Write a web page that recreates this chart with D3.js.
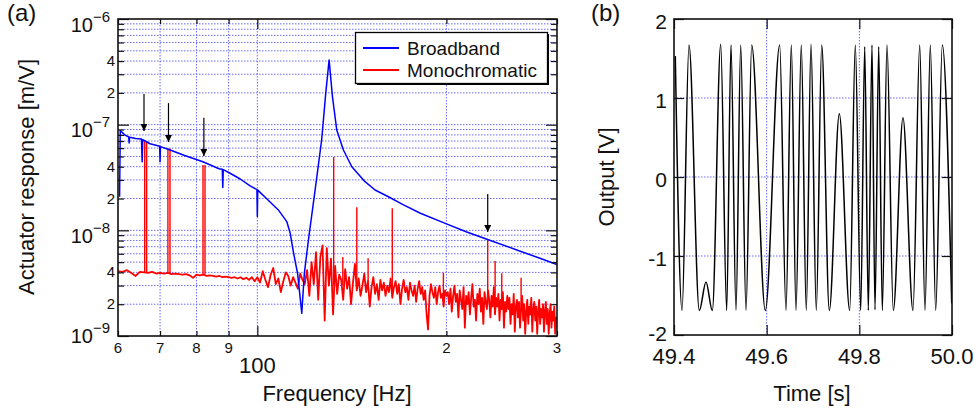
<!DOCTYPE html>
<html>
<head>
<meta charset="utf-8">
<script src="https://cdn.jsdelivr.net/npm/d3@7"></script>
<style>
  body { margin: 0; background: #fff; }
  text { font-family: "Liberation Sans", Arial, Helvetica, sans-serif; fill: #111; }
</style>
</head>
<body>
<svg id="fig" width="976" height="412"></svg>
<script>
// ---------- panel (a): actuator response ----------
// broadband response, m/V
const blueFreq = [60.35, 60.5, 61.5, 62.4, 62.5, 62.6, 64.0, 65.4, 65.55, 65.7, 67.5, 69.9, 70.0, 70.1,
  72.1, 76.6, 81.9, 86.9, 87.95, 88.1, 88.25, 90.5, 93.9, 97.4, 99.85, 100.0, 100.15, 104.0, 108.0,
  111.4, 112.8, 114.1, 115.9, 117.7, 118.8, 120.6, 123.6, 126.6, 128.5, 130.1, 131.7, 133.8, 137.1,
  141.4, 148.4, 154.0, 161.7, 170.9, 181.8, 198.7, 215.0, 232.0, 258.9, 281.8, 300];
const blueResp = [2.08e-8, 8.8e-8, 8.0e-8, 7.65e-8, 6.7e-8, 7.6e-8, 7.4e-8, 7.3e-8, 4.46e-8, 7.2e-8,
  6.6e-8, 6.25e-8, 4.46e-8, 6.2e-8, 5.85e-8, 5.11e-8, 4.46e-8, 3.83e-8, 3.78e-8, 2.55e-8, 3.75e-8,
  3.47e-8, 3.06e-8, 2.63e-8, 2.43e-8, 1.35e-8, 2.40e-8, 1.94e-8, 1.56e-8, 1.21e-8, 9.4e-9, 6.3e-9,
  3.9e-9, 1.64e-9, 3.9e-9, 8.1e-9, 2.41e-8, 7.2e-8, 1.98e-7, 4.1e-7, 1.84e-7, 8.9e-8, 5.76e-8,
  4.0e-8, 2.89e-8, 2.41e-8, 2.08e-8, 1.74e-8, 1.45e-8, 1.17e-8, 9.7e-9, 8.23e-9, 6.52e-9, 5.44e-9, 4.75e-9];

// monochromatic noise floor, one value per Hz from 60 to 300 Hz, in units of 1e-9 m/V
const redStartHz = 60;
const redNoise = [
  4.10, 4.05, 4.20, 3.95, 3.70, 4.05, 4.00, 3.95, 4.05, 3.90,
  3.95, 3.90, 3.95, 3.85, 3.90, 3.85, 3.80, 3.85, 3.75, 3.55,
  3.80, 3.75, 3.80, 3.70, 3.75, 3.70, 3.65, 3.70, 3.60, 3.65,
  3.60, 3.55, 3.60, 3.50, 3.60, 3.45, 3.55, 3.40, 3.60, 3.30,
  3.6, 3.2, 4.1, 3.4, 2.9, 3.8, 4.4, 3.1, 3.5, 2.6,
  3.3, 4.0, 3.7, 3.0, 3.6, 3.2, 2.8, 3.9, 3.4, 3.1,
  4.2, 2.4, 5.0, 3.1, 6.2, 2.2, 5.6, 7.2, 1.4, 6.8,
  3.0, 5.4, 1.6, 4.6, 2.5, 3.8, 3.4, 2.2, 4.3, 2.8,
  3.6, 2.0, 3.2, 4.8, 2.7, 3.5, 2.4, 3.0, 3.9, 2.6,
  3.3, 1.9, 2.9, 3.6, 2.5, 3.1, 2.2, 3.4, 2.7, 3.2,
  2.4, 3.0, 2.6, 3.5, 2.3, 2.9, 3.3, 2.5, 3.1, 2.0,
  2.8, 3.4, 2.6, 2.9, 2.2, 3.2, 2.7, 2.4, 3.0, 2.1,
  2.8, 3.3, 2.5, 2.9, 2.2, 2.7, 1.6, 1.15, 2.4, 3.1,
  2.6, 2.3, 2.9, 2.0, 2.6, 3.0, 2.3, 2.5, 1.9, 2.7,
  2.4, 2.6, 2.0, 2.8, 1.7, 2.4, 3.0, 2.1, 2.5, 1.5,
  2.7, 2.2, 1.8, 2.9, 1.2, 2.4, 2.0, 2.6, 1.6, 2.3,
  3.1, 1.9, 2.2, 1.4, 2.5, 2.0, 2.8, 1.7, 2.3, 1.3,
  2.6, 2.1, 1.8, 2.7, 2.2, 1.5, 2.4, 1.9, 2.9, 1.6,
  2.3, 1.9, 2.5, 1.4, 2.2, 1.8, 2.6, 1.2, 2.1, 1.7,
  2.4, 1.8, 2.3, 1.3, 2.0, 1.6, 2.5, 1.1, 1.9, 2.2,
  1.5, 2.1, 1.2, 1.8, 2.4, 1.4, 2.0, 1.05, 1.7, 2.2,
  1.3, 1.9, 1.6, 2.3, 1.1, 1.8, 2.1, 1.4, 1.9, 1.05,
  1.7, 2.2, 1.3, 1.8, 1.5, 2.0, 1.1, 1.7, 2.1, 1.3,
  1.8, 1.05, 1.6, 2.0, 1.2, 1.7, 1.4, 1.9, 1.05, 1.5,
  1.3];

// monochromatic tones (spikes), m/V
const toneFreq = [66.17, 66.65, 72.05, 72.6, 81.94, 82.54, 132.3, 136.8, 144.0, 150.1, 164.0, 197.8, 232.7, 239.1, 245.0, 263.0];
const toneTop  = [7.0e-8, 7.0e-8, 5.95e-8, 5.95e-8, 4.15e-8, 4.15e-8, 4.95e-8, 5.6e-9, 1.65e-8, 5.45e-9, 1.62e-8, 3.98e-9, 8.1e-9, 5.13e-9, 3.92e-9, 3.56e-9];
const toneBase = [4.0e-9, 4.0e-9, 3.95e-9, 3.95e-9, 3.8e-9, 3.8e-9, 3.0e-9, 3.0e-9, 3.0e-9, 2.8e-9, 2.7e-9, 2.3e-9, 2.0e-9, 2.0e-9, 1.9e-9, 1.8e-9];

// arrows marking the tones
const arrowFreq = [66.0, 72.2, 82.2, 232.7];
const arrowTail = [1.95e-7, 1.6e-7, 1.16e-7, 2.21e-8];
const arrowTip  = [8.7e-8, 6.86e-8, 5.05e-8, 9.64e-9];

const xTicksA = [60, 70, 80, 90, 100, 200, 300];
const xTickLabelsA = ["6", "7", "8", "9", "100", "2", "3"];
const xGridA = [70, 80, 90, 100, 200];
const yDecadesA = [-9, -8, -7, -6];
const ySmallLabelsA = [2e-9, 4e-9, 2e-8, 4e-8, 2e-7, 4e-7];

// ---------- panel (b): output signal, extrema ----------
const waveT = [49.4028, 49.4173, 49.4324, 49.4546, 49.4691, 49.4827, 49.5008, 49.5137, 49.5230, 49.5338,
  49.5440, 49.5554, 49.5677, 49.5971, 49.6281, 49.6417, 49.6532, 49.6633, 49.6747, 49.6855,
  49.6957, 49.7071, 49.7188, 49.7352, 49.7568, 49.7792, 49.7913, 49.8030, 49.8116, 49.8194,
  49.8273, 49.8338, 49.8418, 49.8496, 49.8597, 49.8733, 49.8942, 49.9158, 49.9303, 49.9417,
  49.9532, 49.9648, 49.9791, 49.9994];
const waveV = [1.53, -1.69, 1.67, -1.69, -1.33, -1.69, 1.68, -1.69, 1.67, -1.69,
  1.67, -1.69, 1.67, -1.69, 1.67, -1.69, 1.67, -1.69, 1.67, -1.69,
  1.68, -1.69, 1.67, -1.69, 0.80, -1.69, 1.67, -1.69, 1.65, -1.69,
  1.67, -1.68, 1.65, -1.69, 1.67, -1.69, 0.75, -1.69, 1.67, -1.69,
  1.67, -1.69, 1.67, -1.60];
const xTicksB = [49.4, 49.6, 49.8, 50.0];
const yTicksB = [-2, -1, 0, 1, 2];

// ---------- layout ----------
const A = { left: 118, right: 557, top: 19, bottom: 336 };
const B = { left: 674, right: 952, top: 19, bottom: 335 };
const gridColor = "#6b6bff";
const ink = "#111";

const svg = d3.select("#fig");
const defs = svg.append("defs");
defs.append("clipPath").attr("id", "clipA").append("rect")
  .attr("x", A.left).attr("y", A.top).attr("width", A.right - A.left).attr("height", A.bottom - A.top);
defs.append("clipPath").attr("id", "clipB").append("rect")
  .attr("x", B.left).attr("y", B.top).attr("width", B.right - B.left).attr("height", B.bottom - B.top);
defs.append("marker").attr("id", "head").attr("viewBox", "0 0 10 10")
  .attr("refX", 10).attr("refY", 5).attr("markerWidth", 7).attr("markerHeight", 7)
  .attr("markerUnits", "userSpaceOnUse").attr("orient", "auto")
  .append("path").attr("d", "M0,0L10,5L0,10z").attr("fill", "#000");

const xA = d3.scaleLog().domain([60, 300]).range([A.left, A.right]);
const yA = d3.scaleLog().domain([1e-9, 1e-6]).range([A.bottom, A.top]);
const xB = d3.scaleLinear().domain([49.4, 50.0]).range([B.left, B.right]);
const yB = d3.scaleLinear().domain([-2, 2]).range([B.bottom, B.top]);

// all 1..9 x decade values
const yAllA = [];
yDecadesA.slice(0, 3).forEach(k => d3.range(1, 10).forEach(m => yAllA.push(m * Math.pow(10, k))));
yAllA.push(1e-6);
const yMajorA = yDecadesA.map(k => Math.pow(10, k));
const yMinorA = yAllA.filter(v => !yMajorA.some(m => Math.abs(m - v) / m < 1e-6));

function tickSet(axisFn, scale, vals, size, tx, ty) {
  svg.append("g").attr("transform", `translate(${tx},${ty})`)
    .call(axisFn(scale).tickValues(vals).tickSize(-size).tickFormat(() => ""))
    .call(g => {
      g.select(".domain").remove();
      g.selectAll("text").remove();
      g.selectAll("line").attr("stroke", ink).attr("stroke-width", 1.2);
    });
}

// ---- panel (a) grid ----
const gridA = svg.append("g").attr("stroke", gridColor).attr("stroke-width", 1).attr("stroke-dasharray", "1.5,1.5");
gridA.selectAll("line.h").data(yAllA.filter(v => v > 1.01e-9 && v < 0.99e-6)).join("line")
  .attr("x1", A.left).attr("x2", A.right).attr("y1", d => yA(d)).attr("y2", d => yA(d));
gridA.selectAll("line.v").data(xGridA).join("line")
  .attr("y1", A.top).attr("y2", A.bottom).attr("x1", d => xA(d)).attr("x2", d => xA(d));

// ---- panel (a) data ----
const plotA = svg.append("g").attr("clip-path", "url(#clipA)");
const lineA = d3.line().x(d => xA(d[0])).y(d => yA(d[1]));
const redData = redNoise.map((v, i) => [redStartHz + i, v * 1e-9]);
plotA.append("path").datum(redData).attr("d", lineA)
  .attr("fill", "none").attr("stroke", "#ff0000").attr("stroke-width", 1.8).attr("stroke-linejoin", "round");
plotA.selectAll("line.tone").data(toneFreq).join("line")
  .attr("x1", d => xA(d)).attr("x2", d => xA(d))
  .attr("y1", (d, i) => yA(toneBase[i])).attr("y2", (d, i) => yA(toneTop[i]))
  .attr("stroke", "#ff0000").attr("stroke-width", 1.4);
const blueData = blueFreq.map((f, i) => [f, blueResp[i]]);
plotA.append("path").datum(blueData).attr("d", lineA)
  .attr("fill", "none").attr("stroke", "#0000ff").attr("stroke-width", 1.5).attr("stroke-linejoin", "round");

// ---- panel (a) ticks ----
tickSet(d3.axisLeft, yA, yMinorA, 6, A.left, 0);
tickSet(d3.axisLeft, yA, yMajorA, 11, A.left, 0);
tickSet(d3.axisRight, yA, yMinorA, 6, A.right, 0);
tickSet(d3.axisRight, yA, yMajorA, 11, A.right, 0);
tickSet(d3.axisBottom, xA, xTicksA.filter(v => v !== 100), 5, 0, A.bottom);
tickSet(d3.axisBottom, xA, [100], 10, 0, A.bottom);
tickSet(d3.axisTop, xA, xTicksA.filter(v => v !== 100), 5, 0, A.top);
tickSet(d3.axisTop, xA, [100], 10, 0, A.top);
svg.append("rect").attr("x", A.left).attr("y", A.top).attr("width", A.right - A.left).attr("height", A.bottom - A.top)
  .attr("fill", "none").attr("stroke", ink).attr("stroke-width", 1.6);

// ---- panel (a) tick labels ----
const yLab = svg.append("g");
yMajorA.forEach((v, i) => {
  const t = yLab.append("text").attr("x", 110).attr("y", Math.min(yA(v) + 12.5, 343))
    .attr("text-anchor", "end").attr("font-size", 20);
  t.append("tspan").text("10");
  t.append("tspan").attr("dy", -10).attr("font-size", 15).text("\u2212" + (-yDecadesA[i]));
});
yLab.selectAll("text.s").data(ySmallLabelsA).join("text")
  .attr("x", 115).attr("y", d => yA(d) + 5).attr("text-anchor", "end").attr("font-size", 15)
  .text(d => String(Math.round(d / Math.pow(10, Math.floor(Math.log10(d) + 1e-9)))));
svg.selectAll("text.xa").data(xTicksA).join("text")
  .attr("x", d => xA(d)).attr("y", d => d === 100 ? 373 : 353)
  .attr("text-anchor", "middle").attr("font-size", d => d === 100 ? 22 : 15)
  .text((d, i) => xTickLabelsA[i]);

// ---- panel (a) axis titles ----
svg.append("text").attr("transform", "translate(34,177) rotate(-90)").attr("text-anchor", "middle")
  .attr("font-size", 22).text("Actuator response [m/V]");
svg.append("text").attr("x", (A.left + A.right) / 2 - 0.5).attr("y", 401).attr("text-anchor", "middle")
  .attr("font-size", 22).text("Frequency [Hz]");
svg.append("text").attr("x", 7).attr("y", 21).attr("font-size", 24).text("(a)");

// ---- arrows ----
svg.selectAll("line.arrow").data(arrowFreq).join("line")
  .attr("x1", d => xA(d)).attr("x2", d => xA(d))
  .attr("y1", (d, i) => yA(arrowTail[i])).attr("y2", (d, i) => yA(arrowTip[i]))
  .attr("stroke", "#000").attr("stroke-width", 1.2).attr("marker-end", "url(#head)");

// ---- legend ----
const leg = svg.append("g");
leg.append("rect").attr("x", 357).attr("y", 34).attr("width", 192).attr("height", 51).attr("fill", "#000");
leg.append("rect").attr("x", 355.5).attr("y", 32.5).attr("width", 192).attr("height", 51)
  .attr("fill", "#fff").attr("stroke", "#000").attr("stroke-width", 1.3);
const legItems = [["Broadband", "#0000ff", 48], ["Monochromatic", "#ff0000", 70]];
legItems.forEach(([name, col, y]) => {
  leg.append("line").attr("x1", 363).attr("x2", 399).attr("y1", y).attr("y2", y)
    .attr("stroke", col).attr("stroke-width", 2.2);
  leg.append("text").attr("x", 407).attr("y", y + 6.5).attr("font-size", 19).text(name);
});

// ---- panel (b) ----
const gridB = svg.append("g").attr("stroke", gridColor).attr("stroke-width", 1).attr("stroke-dasharray", "1.5,1.5");
gridB.selectAll("line.h").data(yTicksB.filter(v => v > -2 && v < 2)).join("line")
  .attr("x1", B.left).attr("x2", B.right).attr("y1", d => yB(d)).attr("y2", d => yB(d));
gridB.selectAll("line.v").data(xTicksB.filter(v => v > 49.4 && v < 50)).join("line")
  .attr("y1", B.top).attr("y2", B.bottom).attr("x1", d => xB(d)).attr("x2", d => xB(d));

const plotB = svg.append("g").attr("clip-path", "url(#clipB)");
plotB.append("path").datum(waveT.map((t, i) => [t, waveV[i]]))
  .attr("d", d3.line().x(d => xB(d[0])).y(d => yB(d[1])).curve(d3.curveMonotoneX))
  .attr("fill", "none").attr("stroke", "#000").attr("stroke-width", 1.5);

tickSet(d3.axisLeft, yB, yTicksB, 10, B.left, 0);
tickSet(d3.axisRight, yB, yTicksB, 10, B.right, 0);
tickSet(d3.axisBottom, xB, xTicksB, 10, 0, B.bottom);
tickSet(d3.axisTop, xB, xTicksB, 10, 0, B.top);
svg.append("rect").attr("x", B.left).attr("y", B.top).attr("width", B.right - B.left).attr("height", B.bottom - B.top)
  .attr("fill", "none").attr("stroke", ink).attr("stroke-width", 1.6);

svg.selectAll("text.yb").data(yTicksB).join("text")
  .attr("x", 667).attr("y", d => Math.min(yB(d) + 9.5, 341)).attr("text-anchor", "end").attr("font-size", 21)
  .text(d => d < 0 ? "-" + Math.abs(d) : String(d));
svg.selectAll("text.xb").data(xTicksB).join("text")
  .attr("x", d => xB(d)).attr("y", 364).attr("text-anchor", "middle").attr("font-size", 22)
  .text(d => d.toFixed(1));
svg.append("text").attr("transform", "translate(614,177) rotate(-90)").attr("text-anchor", "middle")
  .attr("font-size", 22).text("Output [V]");
svg.append("text").attr("x", (B.left + B.right) / 2 - 1).attr("y", 401).attr("text-anchor", "middle")
  .attr("font-size", 22).text("Time [s]");
svg.append("text").attr("x", 591).attr("y", 21).attr("font-size", 24).text("(b)");
</script>
</body>
</html>
